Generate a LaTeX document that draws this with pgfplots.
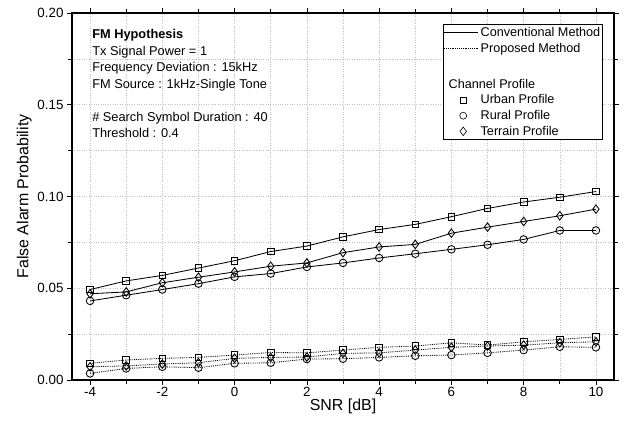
\documentclass[border=0pt]{standalone}
\usepackage{pgfplots}
\pgfplotsset{compat=1.18}
\usepackage{fontspec}
\setmainfont{Liberation Sans}
\begin{document}
\begin{tikzpicture}
\begin{axis}[
  scale only axis, width=542bp, height=367bp,
  xmin=-4.5, xmax=10.5, ymin=0, ymax=0.2,
  xtick={-4,-2,0,2,4,6,8,10}, minor xtick={-3,-1,1,3,5,7,9},
  ytick={0,0.05,0.1,0.15,0.2}, minor ytick={0.025,0.075,0.125,0.175},
  yticklabel style={/pgf/number format/.cd, fixed, fixed zerofill, precision=2},
  /pgf/number format/assume math mode=true,
  tick align=outside, major tick length=5bp, minor tick length=4bp,
  tick style={black, line width=0.7pt},
  axis line style={line width=1.1pt},
  grid=both,
  major grid style={gray!50, dotted, line width=0.5pt},
  minor grid style={gray!50, dotted, line width=0.5pt},
  ticklabel style={font=\fontsize{13.4}{15}\selectfont},
  xticklabel style={yshift=1bp},
  xlabel={SNR [dB]}, ylabel={False Alarm Probability},
  label style={font=\fontsize{16}{18}\selectfont},
  xlabel style={yshift=5bp}, ylabel style={yshift=-1bp},
  legend style={at={(0.9797,0.970)}, anchor=north east, draw=black, line width=0.6pt,
    font=\fontsize{12.7}{14}\selectfont, row sep=1.0bp, inner xsep=0.5bp, inner ysep=1bp},
  legend cell align=left,
  every axis plot/.append style={black, line width=0.85pt},
  legend image code/.code={\draw[#1] (0bp,0bp) -- (34bp,0bp);},
]
% Conventional
\addplot[mark=square, mark size=3.3, forget plot, mark options={solid, fill=white}] coordinates {
(-4,0.0493)(-3,0.054)(-2,0.057)(-1,0.061)(0,0.065)(1,0.070)(2,0.073)(3,0.078)(4,0.082)(5,0.0848)(6,0.089)(7,0.0935)(8,0.097)(9,0.0996)(10,0.1027)};
\addplot[mark=diamond, mark size=4.3, forget plot, mark options={solid, fill=white}] coordinates {
(-4,0.047)(-3,0.048)(-2,0.053)(-1,0.056)(0,0.0589)(1,0.062)(2,0.0638)(3,0.0694)(4,0.0725)(5,0.0739)(6,0.080)(7,0.0833)(8,0.0864)(9,0.0895)(10,0.0931)};
\addplot[mark=o, mark size=3.8, forget plot, mark options={solid, fill=white}] coordinates {
(-4,0.0431)(-3,0.0462)(-2,0.0493)(-1,0.0525)(0,0.0562)(1,0.058)(2,0.0616)(3,0.0638)(4,0.0665)(5,0.0688)(6,0.0712)(7,0.0737)(8,0.0766)(9,0.0815)(10,0.0815)};
% Proposed
\addplot[densely dotted, mark=square, mark size=3.3, forget plot, mark options={solid, fill=white}] coordinates {
(-4,0.0091)(-3,0.0109)(-2,0.0118)(-1,0.0123)(0,0.0136)(1,0.015)(2,0.0148)(3,0.0163)(4,0.0178)(5,0.0185)(6,0.0203)(7,0.019)(8,0.0208)(9,0.0221)(10,0.0235)};
\addplot[densely dotted, mark=diamond, mark size=4.3, forget plot, mark options={solid, fill=white}] coordinates {
(-4,0.0072)(-3,0.0077)(-2,0.0087)(-1,0.0094)(0,0.0118)(1,0.0123)(2,0.0125)(3,0.0145)(4,0.0148)(5,0.0163)(6,0.0178)(7,0.0185)(8,0.019)(9,0.0203)(10,0.0208)};
\addplot[densely dotted, mark=o, mark size=3.8, forget plot, mark options={solid, fill=white}] coordinates {
(-4,0.0036)(-3,0.0063)(-2,0.0072)(-1,0.0067)(0,0.0091)(1,0.0094)(2,0.0114)(3,0.0116)(4,0.0123)(5,0.0132)(6,0.0136)(7,0.0148)(8,0.0163)(9,0.0181)(10,0.0178)};
% legend
\addlegendimage{black, line width=0.8pt}
\addlegendentry{Conventional Method}
\addlegendimage{black, densely dotted, line width=0.6pt}
\addlegendentry{Proposed Method}
\addlegendimage{empty legend}
\addlegendentry{\rule{0pt}{14bp}}
\addlegendimage{empty legend}
\addlegendentry{\hspace*{-32bp}Channel Profile}
\addlegendimage{legend image code/.code={\draw[black, line width=0.6pt] plot[mark=square, mark size=3] coordinates {(19bp,0bp)};}}
\addlegendentry{Urban Profile}
\addlegendimage{legend image code/.code={\draw[black, line width=0.6pt] plot[mark=o, mark size=3.5] coordinates {(19bp,0bp)};}}
\addlegendentry{Rural Profile}
\addlegendimage{legend image code/.code={\draw[black, line width=0.6pt] plot[mark=diamond, mark size=4.3] coordinates {(19bp,0bp)};}}
\addlegendentry{Terrain Profile}
\node[anchor=north west, align=left, font=\fontsize{12.85}{16.5}\selectfont, inner sep=0pt]
  at (rel axis cs:0.037,0.955) {\textbf{FM Hypothesis}\\Tx Signal Power = 1\\Frequency Deviation : 15kHz\\FM Source : 1kHz-Single Tone\\[16.5bp]\# Search Symbol Duration : 40\\Threshold : 0.4};
\end{axis}
\pgfresetboundingbox
\path ([shift={(-72bp,-43bp)}]current axis.south west) rectangle ([shift={(10bp,13bp)}]current axis.north east);
\end{tikzpicture}
\end{document}
